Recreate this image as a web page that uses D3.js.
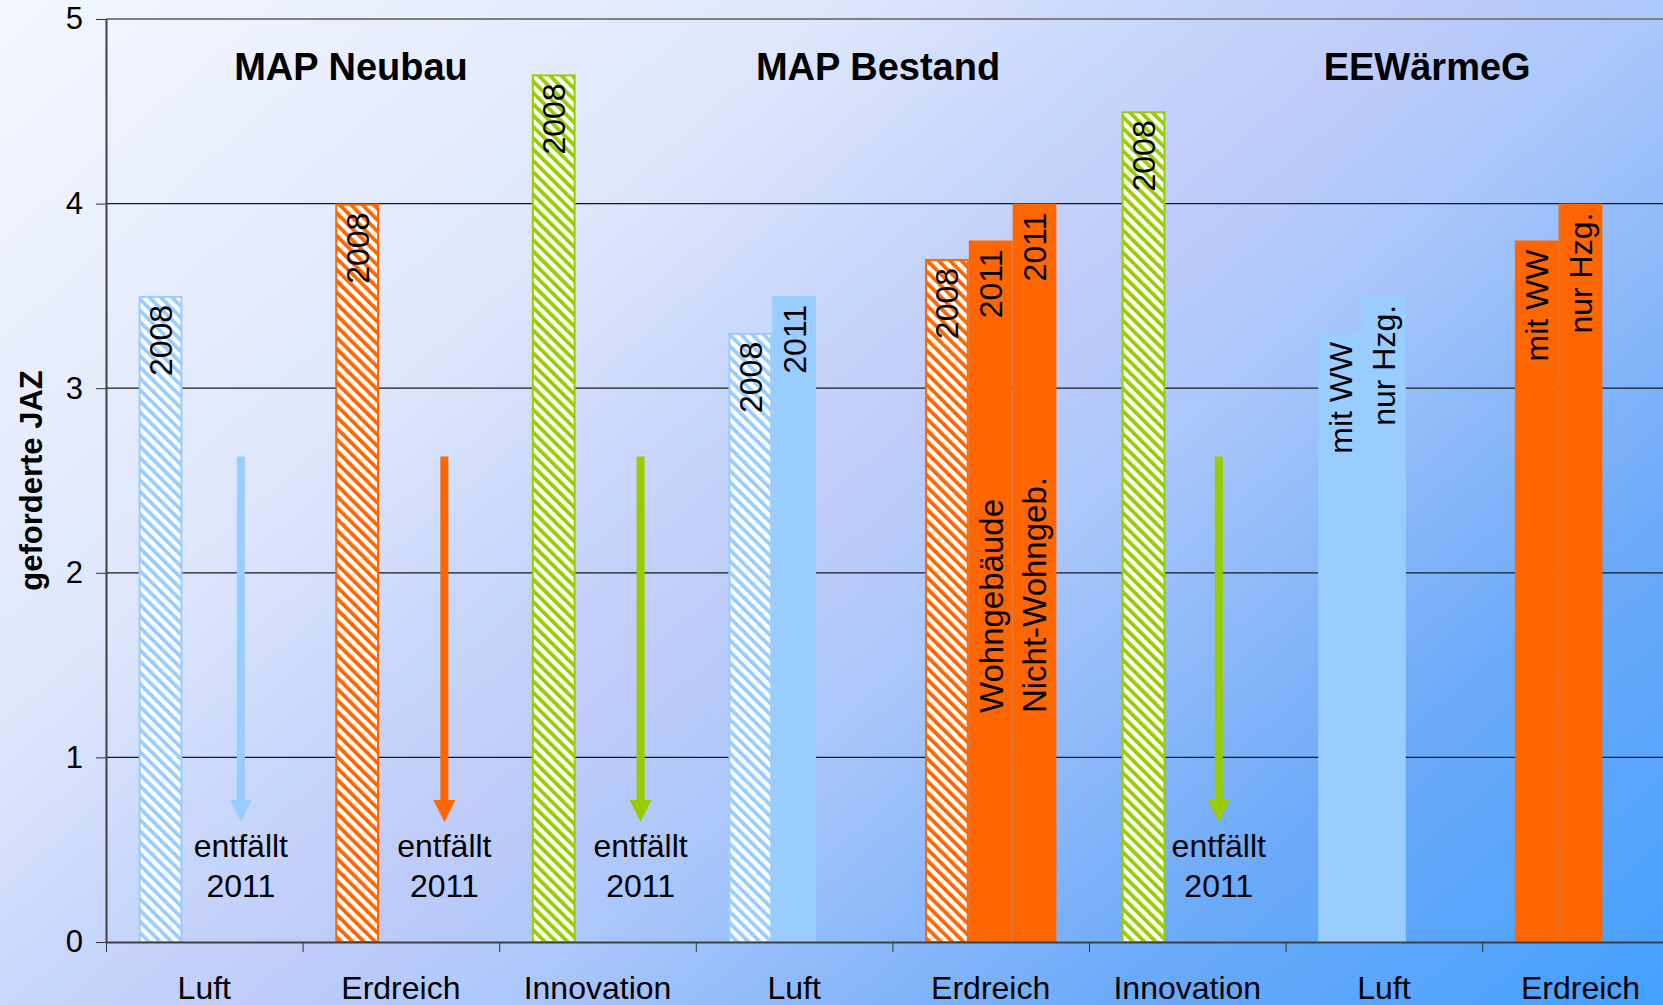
<!DOCTYPE html>
<html>
<head>
<meta charset="utf-8">
<script src="https://cdn.jsdelivr.net/npm/d3@7"></script>
<style>
    body { margin: 0; overflow: hidden; }
    text { font-family: "Liberation Sans", Arial, sans-serif; fill: #000; }
</style>
</head>
<body>
<div id="chart"></div>
<script>

// Data
var categories = ["Luft", "Erdreich", "Innovation", "Luft", "Erdreich", "Innovation", "Luft", "Erdreich"];
var categoryKinds = ["luft", "erdreich", "innovation", "luft", "erdreich", "innovation", "luft", "erdreich"];
var groupTitles = ["MAP Neubau", "MAP Bestand", "EEWärmeG"];
var yTicks = [0, 1, 2, 3, 4, 5];

// bar heights per slot inside a category (null = no bar)
var slot0Values = [3.5, 4.0, 4.7, 3.3, 3.7, 4.5, 3.3, 3.8];
var slot1Values = [null, null, null, 3.5, 3.8, null, 3.5, 4.0];
var slot2Values = [null, null, null, null, 4.0, null, null, null];
var slot0Hatched = [true, true, true, true, true, true, false, false];

var slot0Labels = ["2008", "2008", "2008", "2008", "2008", "2008", "mit WW", "mit WW"];
var slot1Labels = [null, null, null, "2011", "2011", null, "nur Hzg.", "nur Hzg."];
var slot2Labels = [null, null, null, null, "2011", null, null, null];
var slot1BaseLabels = [null, null, null, null, "Wohngebäude", null, null, null];
var slot2BaseLabels = [null, null, null, null, "Nicht-Wohngeb.", null, null, null];

// "entfällt 2011" arrows
var droppedCats = [0, 1, 2, 5];
var droppedText = ["entfällt", "2011"];
var arrowFrom = 2.63;
var arrowTo = 0.65;

var colors = {luft: "#99CCFF", erdreich: "#FF6600", innovation: "#99CC00"};


JazChart = function(_parentElement){
    this.parentElement = _parentElement;

    // one record per bar
    this.bars = [];
    var slots = [
        {values: slot0Values, hatched: slot0Hatched, top: slot0Labels, base: null},
        {values: slot1Values, hatched: null, top: slot1Labels, base: slot1BaseLabels},
        {values: slot2Values, hatched: null, top: slot2Labels, base: slot2BaseLabels}
    ];
    var vis = this;
    slots.forEach(function(s, si){
        s.values.forEach(function(v, ci){
            if (v === null) return;
            vis.bars.push({
                cat: ci, slot: si, value: v, kind: categoryKinds[ci],
                hatched: s.hatched ? s.hatched[ci] : false,
                top: s.top[ci], base: s.base ? s.base[ci] : null
            });
        });
    });

    this.initVis();
};


JazChart.prototype.initVis = function(){
    var vis = this;

    vis.W = 1663;
    vis.H = 1005;
    vis.margin = {top: 19, left: 106, bottom: 63};
    vis.step = 196.6;
    vis.height = vis.H - vis.margin.top - vis.margin.bottom;

    vis.svg = d3.select("#" + vis.parentElement).append("svg")
        .attr("width", vis.W)
        .attr("height", vis.H);

    var defs = vis.svg.append("defs");

    var grad = defs.append("linearGradient")
        .attr("id", "bg")
        .attr("gradientUnits", "userSpaceOnUse")
        .attr("x1", 0).attr("y1", 0)
        .attr("x2", 1206).attr("y2", 1398);
    [[0, "#F4F7FE"], [0.3, "#DDE6FC"], [0.41, "#C8D7FB"], [0.5, "#BFCCF9"],
     [0.59, "#ACC7FB"], [0.8, "#6CAAF8"], [1, "#44A0FF"]].forEach(function(s){
        grad.append("stop").attr("offset", s[0]).attr("stop-color", s[1]);
    });

    // diagonal hatch per colour
    Object.keys(colors).forEach(function(k){
        var p = defs.append("pattern")
            .attr("id", "hatch-" + k)
            .attr("patternUnits", "userSpaceOnUse")
            .attr("width", 8).attr("height", 8)
            .attr("patternTransform", "rotate(-45)");
        p.append("rect").attr("width", 8).attr("height", 8).attr("fill", "#fff");
        p.append("rect").attr("width", 3.8).attr("height", 8).attr("fill", colors[k]);
    });

    vis.svg.append("rect")
        .attr("width", vis.W).attr("height", vis.H)
        .attr("fill", "url(#bg)");

    var g = vis.svg.append("g")
        .attr("transform", "translate(" + vis.margin.left + "," + vis.margin.top + ")");

    // Scales
    vis.x = d3.scaleBand()
        .domain(d3.range(categories.length))
        .range([0, vis.step * categories.length]);

    vis.xSlot = d3.scaleBand()
        .domain([0, 1, 2])
        .range([0, vis.x.bandwidth()])
        .paddingOuter(0.745);

    vis.xIdx = d3.scaleLinear()
        .domain([0, categories.length])
        .range([0, vis.step * categories.length]);

    vis.y = d3.scaleLinear()
        .domain([0, 5])
        .range([vis.height, 0]);

    // gridlines
    g.append("g").selectAll("line")
        .data(yTicks.filter(function(d){ return d > 0; }))
        .enter().append("line")
        .attr("x1", 0).attr("x2", vis.W)
        .attr("y1", function(d){ return vis.y(d); })
        .attr("y2", function(d){ return vis.y(d); })
        .attr("stroke", function(d){ return d === 5 ? "#808080" : "#1a1a1a"; })
        .attr("stroke-width", function(d){ return d === 5 ? 2 : 1.3; });

    // bars
    var barW = vis.xSlot.bandwidth();
    var bx = function(d){ return vis.x(d.cat) + vis.xSlot(d.slot); };

    g.append("g").selectAll("rect")
        .data(vis.bars)
        .enter().append("rect")
        .attr("x", function(d){ return bx(d) + (d.hatched ? 1 : 0); })
        .attr("y", function(d){ return vis.y(d.value) + (d.hatched ? 1 : 0); })
        .attr("width", function(d){ return barW - (d.hatched ? 2 : 0); })
        .attr("height", function(d){ return vis.y(0) - vis.y(d.value) - (d.hatched ? 1 : 0); })
        .attr("fill", function(d){ return d.hatched ? "url(#hatch-" + d.kind + ")" : colors[d.kind]; })
        .attr("stroke", function(d){ return d.hatched ? colors[d.kind] : "none"; })
        .attr("stroke-width", 2);

    // labels at bar top
    g.append("g").selectAll("text")
        .data(vis.bars.filter(function(d){ return d.top; }))
        .enter().append("text")
        .attr("transform", function(d){
            return "translate(" + (bx(d) + barW / 2) + "," + (vis.y(d.value) + 9) + ") rotate(-90)";
        })
        .attr("text-anchor", "end")
        .attr("dy", "0.36em")
        .style("font-size", "32px")
        .text(function(d){ return d.top; });

    // labels at bar base
    g.append("g").selectAll("text")
        .data(vis.bars.filter(function(d){ return d.base; }))
        .enter().append("text")
        .attr("transform", function(d){
            return "translate(" + (bx(d) + barW / 2) + "," + vis.y(1.24) + ") rotate(-90)";
        })
        .attr("text-anchor", "start")
        .attr("dy", "0.36em")
        .style("font-size", "33px")
        .text(function(d){ return d.base; });

    // arrows + "entfällt 2011"
    var arrowPos = [0.686, 0.721, 0.719, 0.66];
    var drops = g.append("g").selectAll("g")
        .data(droppedCats)
        .enter().append("g")
        .attr("transform", function(d, i){
            return "translate(" + (vis.x(d) + arrowPos[i] * vis.x.bandwidth()) + ",0)";
        });

    drops.append("rect")
        .attr("x", -4).attr("width", 8)
        .attr("y", vis.y(arrowFrom))
        .attr("height", vis.y(arrowTo) - vis.y(arrowFrom) - 21)
        .attr("fill", function(d){ return colors[categoryKinds[d]]; });

    drops.append("path")
        .attr("d", function(){
            var t = vis.y(arrowTo);
            return "M-11," + (t - 22) + "L11," + (t - 22) + "L0," + t + "Z";
        })
        .attr("fill", function(d){ return colors[categoryKinds[d]]; });

    drops.selectAll("text")
        .data(droppedText)
        .enter().append("text")
        .attr("x", 0)
        .attr("y", function(d, i){ return vis.y(0) - 85 + i * 40; })
        .attr("text-anchor", "middle")
        .style("font-size", "32px")
        .text(function(d){ return d; });

    // axes
    g.append("g")
        .attr("class", "x-ticks")
        .attr("transform", "translate(0," + vis.height + ")")
        .call(d3.axisBottom(vis.xIdx).ticks(categories.length).tickFormat("").tickSize(10).tickSizeOuter(0))
        .call(function(a){ a.select(".domain").attr("stroke", "#404040").attr("stroke-width", 2); })
        .call(function(a){ a.selectAll(".tick line").attr("stroke", "#333"); });

    g.append("g")
        .attr("class", "x-labels")
        .attr("transform", "translate(0," + vis.height + ")")
        .call(d3.axisBottom(vis.x).tickSize(0).tickPadding(34).tickFormat(function(i){ return categories[i]; }))
        .call(function(a){ a.select(".domain").remove(); })
        .selectAll("text")
        .style("font-size", "32px")
        .attr("font-family", null);

    g.append("g")
        .attr("class", "y-axis")
        .call(d3.axisLeft(vis.y).tickValues(yTicks).tickFormat(d3.format("d")).tickSize(10).tickSizeOuter(0).tickPadding(13))
        .call(function(a){ a.select(".domain").attr("stroke", "#404040").attr("stroke-width", 2); })
        .call(function(a){ a.selectAll(".tick line").attr("stroke", "#333"); })
        .selectAll("text")
        .style("font-size", "31px")
        .attr("font-family", null);

    vis.svg.selectAll(".tick text").attr("fill", "#000");

    // y title
    vis.svg.append("text")
        .attr("transform", "translate(42," + (vis.margin.top + vis.height / 2) + ") rotate(-90)")
        .attr("text-anchor", "middle")
        .style("font-size", "31px")
        .style("font-weight", "bold")
        .text("geforderte JAZ");

    // group titles
    var titlePos = [1.246, 3.927, 6.72];
    g.append("g").selectAll("text")
        .data(groupTitles)
        .enter().append("text")
        .attr("x", function(d, i){ return vis.xIdx(titlePos[i]); })
        .attr("y", 61)
        .attr("text-anchor", "middle")
        .style("font-size", "38px")
        .style("font-weight", "bold")
        .text(function(d){ return d; });
};

new JazChart("chart");

</script>
</body>
</html>
